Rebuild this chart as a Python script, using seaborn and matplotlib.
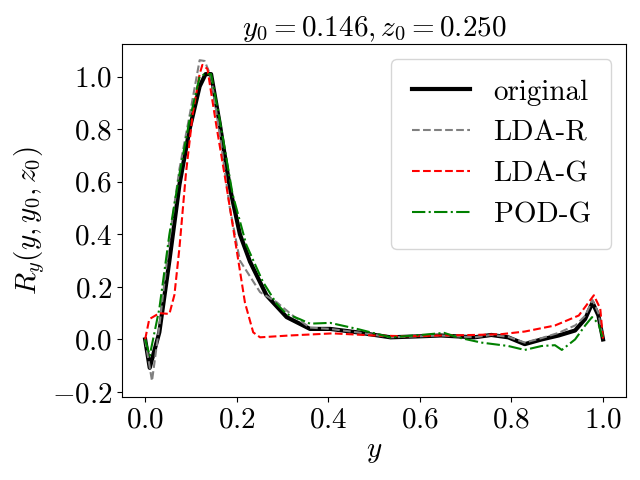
import matplotlib
matplotlib.use("Agg")
import matplotlib.pyplot as plt
import seaborn as sns

x_orig = [0.0, 0.010, 0.031, 0.053, 0.075, 0.097, 0.119, 0.132, 0.144, 0.163, 0.185, 0.207,
          0.229, 0.265, 0.309, 0.36, 0.404, 0.463, 0.536, 0.602, 0.646, 0.719, 0.756, 0.793,
          0.829, 0.866, 0.903, 0.939, 0.961, 0.977, 0.990, 1.0]
y_orig = [0.0, -0.108, 0.027, 0.30, 0.59, 0.80, 0.963, 1.01, 1.01, 0.82, 0.578, 0.40,
          0.296, 0.168, 0.085, 0.04, 0.04, 0.027, 0.008, 0.012, 0.015, 0.008, 0.017, 0.008,
          -0.018, 0.0, 0.015, 0.034, 0.078, 0.14, 0.091, 0.0]

x_ldar = [0.0, 0.015, 0.031, 0.053, 0.075, 0.10, 0.119, 0.130, 0.144, 0.163, 0.185, 0.207,
          0.251, 0.287, 0.323, 0.36, 0.404, 0.463, 0.536, 0.602, 0.646, 0.719, 0.756, 0.793,
          0.829, 0.866, 0.903, 0.94, 0.961, 0.977, 0.990, 1.0]
y_ldar = [0.0, -0.158, 0.05, 0.38, 0.65, 0.88, 1.063, 1.06, 1.0, 0.78, 0.50, 0.30,
          0.18, 0.142, 0.09, 0.045, 0.04, 0.027, 0.008, 0.012, 0.015, 0.008, 0.017, 0.01,
          -0.012, 0.005, 0.025, 0.054, 0.09, 0.15, 0.10, 0.0]

x_ldag = [0.0, 0.009, 0.031, 0.053, 0.064, 0.075, 0.089, 0.104, 0.119, 0.125, 0.136, 0.155,
          0.177, 0.199, 0.218, 0.236, 0.251, 0.316, 0.41, 0.5, 0.573, 0.646, 0.719, 0.778,
          0.829, 0.895, 0.947, 0.98, 0.994, 1.0]
y_ldag = [0.0, 0.077, 0.10, 0.097, 0.17, 0.35, 0.63, 0.86, 1.01, 1.045, 1.03, 0.82,
          0.59, 0.35, 0.14, 0.027, 0.008, 0.015, 0.023, 0.015, 0.012, 0.015, 0.017, 0.02,
          0.03, 0.053, 0.091, 0.168, 0.117, 0.0]

x_podg = [0.0, 0.010, 0.031, 0.053, 0.075, 0.097, 0.119, 0.130, 0.144, 0.163, 0.191, 0.221,
          0.257, 0.287, 0.309, 0.338, 0.36, 0.404, 0.463, 0.536, 0.602, 0.653, 0.682, 0.734,
          0.793, 0.829, 0.866, 0.895, 0.91, 0.939, 0.961, 0.976, 0.990, 1.0]
y_podg = [0.0, -0.062, 0.117, 0.40, 0.63, 0.835, 1.0, 1.01, 1.01, 0.835, 0.553, 0.36,
          0.22, 0.136, 0.097, 0.077, 0.06, 0.063, 0.04, 0.008, 0.017, 0.025, 0.008, -0.012,
          -0.025, -0.04, -0.025, -0.022, -0.04, 0.0, 0.053, 0.085, 0.06, 0.0]

plt.rcParams['font.family'] = 'serif'
plt.rcParams['font.serif'] = ['cmr10']
plt.rcParams['mathtext.fontset'] = 'cm'
plt.rcParams['axes.formatter.use_mathtext'] = True
plt.rcParams['font.size'] = 20

fig, ax = plt.subplots(figsize=(6.4, 4.8), dpi=100)

sns.lineplot(x=x_orig, y=y_orig, ax=ax, color='black', linewidth=3, sort=False, label='original')
sns.lineplot(x=x_ldar, y=y_ldar, ax=ax, color='gray', linestyle='--', linewidth=1.5, sort=False, label='LDA-R')
sns.lineplot(x=x_ldag, y=y_ldag, ax=ax, color='red', linestyle='--', linewidth=1.5, sort=False, label='LDA-G')
sns.lineplot(x=x_podg, y=y_podg, ax=ax, color='green', linestyle='-.', linewidth=1.5, sort=False, label='POD-G')

ax.set_title(r'$y_0 = 0.146, z_0 = 0.250$', fontsize=21)
ax.set_xlabel('$y$', fontsize=21)
ax.set_ylabel('$R_y(y, y_0, z_0)$', fontsize=21)
ax.set_xticks([0.0, 0.2, 0.4, 0.6, 0.8, 1.0])
ax.set_yticks([-0.2, 0.0, 0.2, 0.4, 0.6, 0.8, 1.0])
ax.tick_params(labelsize=21)
ax.legend(loc='upper right', fontsize=21, borderpad=0.7)

fig.subplots_adjust(left=0.191, right=0.978, top=0.908, bottom=0.173)
plt.savefig('out.png')
plt.close()
